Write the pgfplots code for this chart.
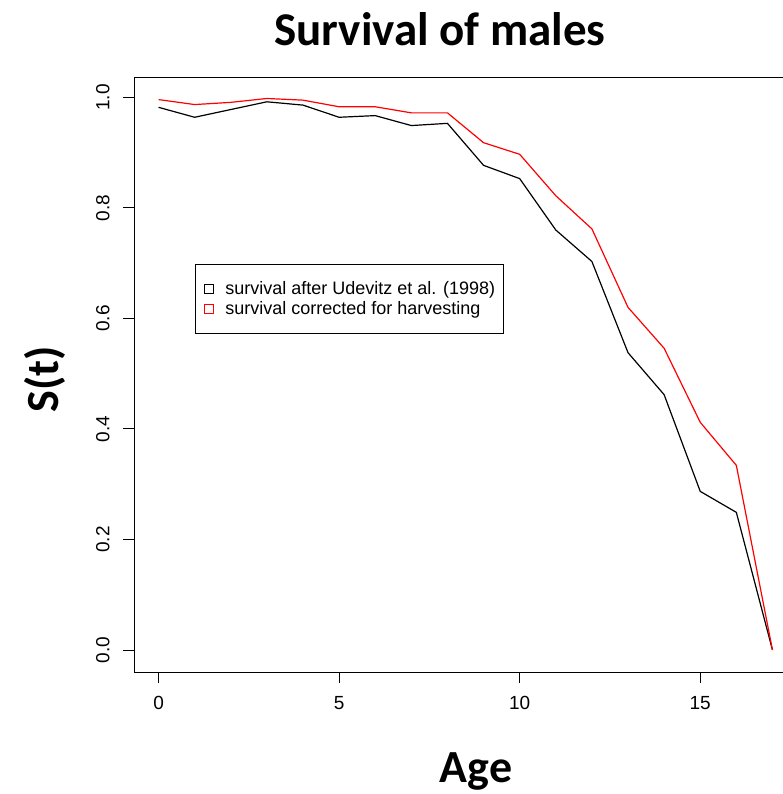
\documentclass[border=0pt]{standalone}
\usepackage{pgfplots}
\pgfplotsset{compat=1.18}
\usepackage{fontspec}
\setmainfont{Liberation Sans}
\newfontfamily\calibri{Carlito}

\begin{document}
\begin{tikzpicture}[x=1pt,y=1pt]
\begin{axis}[
  at={(134pt,122pt)}, anchor=south west,
  scale only axis,
  width=663pt, height=595pt,
  xmin=-0.68, xmax=17.68,
  ymin=-0.0399, ymax=1.0369,
  axis line style={line width=0.9pt},
  xtick={0,5,10,15},
  ytick={0,0.2,0.4,0.6,0.8,1.0},
  yticklabel style={/pgf/number format/fixed, /pgf/number format/fixed zerofill, /pgf/number format/precision=1, xshift=-10pt, rotate=90, anchor=south},
  xticklabel style={yshift=-10pt},
  tick label style={font=\fontsize{19}{22}\selectfont},
  /pgf/number format/assume math mode=true,
  tick align=outside,
  tick pos=left,
  major tick length=11pt,
  every tick/.style={black, line width=0.9pt},
  legend style={at={(0.092,0.686)}, anchor=north west, draw=black, line width=0.8pt,
    font=\fontsize{18}{21}\selectfont, inner xsep=6pt, inner ysep=15pt, row sep=2pt},
  legend cell align=left,
  legend image code/.code={\draw[#1, line width=0.8pt, fill=none] (3pt,-4.5pt) rectangle (12pt,4.5pt); \path[draw=none] (0pt,0pt) -- (22pt,0pt);},
]
\addplot[black, line width=1.2pt] coordinates {
(0,0.982) (1,0.964) (2,0.978) (3,0.992) (4,0.986) (5,0.964) (6,0.967) (7,0.949)
(8,0.953) (9,0.877) (10,0.853) (11,0.760) (12,0.703) (13,0.538) (14,0.462)
(15,0.287) (16,0.249) (17,0.0)};
\addlegendentry{survival after Udevitz et al. (1998)}
\addplot[red, line width=1.2pt] coordinates {
(0,0.996) (1,0.987) (2,0.991) (3,0.998) (4,0.995) (5,0.983) (6,0.983) (7,0.972)
(8,0.972) (9,0.918) (10,0.897) (11,0.822) (12,0.762) (13,0.620) (14,0.546)
(15,0.412) (16,0.334) (17,0.0)};
\addlegendentry{survival corrected for harvesting}
\end{axis}
\node[font=\calibri\bfseries\fontsize{47}{52}\selectfont, anchor=base] at (440pt,748pt) {Survival of males};
\node[font=\calibri\bfseries\fontsize{46}{50}\selectfont, anchor=base] at (476pt,12pt) {Age};
\node[font=\calibri\bfseries\fontsize{46}{50}\selectfont, anchor=base, rotate=90] at (58pt,415pt) {S(t)};
\pgfresetboundingbox
\useasboundingbox (0,0) rectangle (782pt,794pt);
\end{tikzpicture}
\end{document}
